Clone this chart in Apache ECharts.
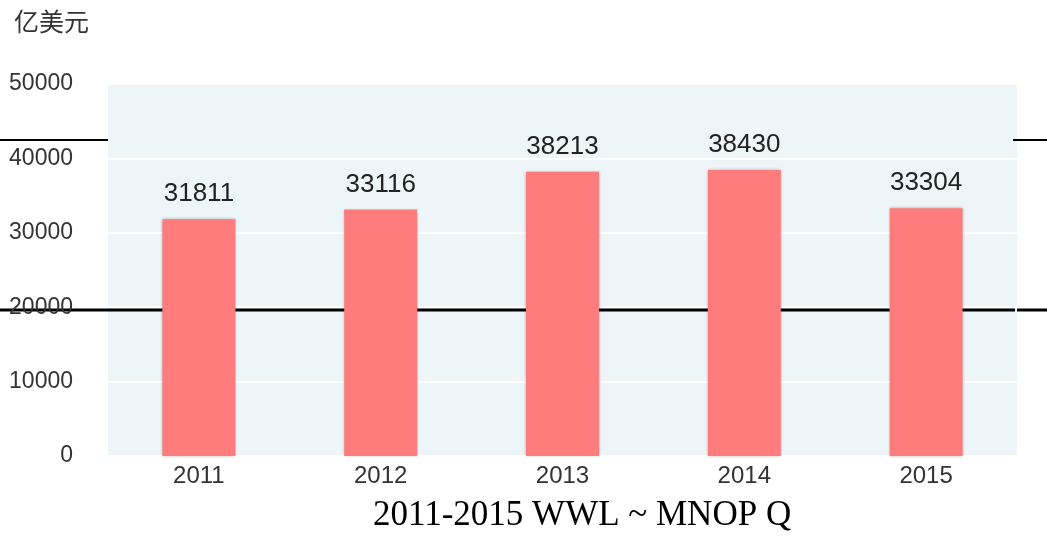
<!DOCTYPE html>
<html>
<head>
<meta charset="utf-8">
<script src="https://cdn.jsdelivr.net/npm/echarts@6/dist/echarts.min.js"></script>
<style>
  html, body { margin: 0; padding: 0; background: #fff; }
  #chart { width: 1047px; height: 540px; }
</style>
</head>
<body>
<div id="chart"></div>
<script>
// 数据
const years = ['2011', '2012', '2013', '2014', '2015']
const values = [31811, 33116, 38213, 38430, 33304]
const unitText = '亿美元'
const titleText = '2011-2015 WWL ~ MNOP Q'

let chart = echarts.init(document.getElementById('chart'))
let option = {
  animation: false,
  backgroundColor: '#fff',
  title: {
    text: titleText,
    left: 368,
    bottom: 2,
    textStyle: {
      fontFamily: 'Liberation Serif',
      fontWeight: 'normal',
      fontSize: 35,
      color: '#000'
    }
  },
  grid: {
    left: 108,
    right: 30,
    top: 84,
    bottom: 84,
    show: true,
    backgroundColor: '#edf5f8',
    borderWidth: 0
  },
  xAxis: {
    type: 'category',
    data: years,
    axisLine: { show: false },
    axisTick: { show: false },
    axisLabel: {
      color: '#333',
      fontFamily: 'Liberation Sans',
      fontSize: 24,
      margin: 8
    }
  },
  yAxis: {
    type: 'value',
    min: 0,
    max: 50000,
    interval: 10000,
    name: unitText,
    nameLocation: 'end',
    nameGap: 0,
    nameTextStyle: {
      fontFamily: 'Noto Sans CJK SC',
      fontSize: 25,
      color: '#333',
      align: 'left',
      padding: [0, 0, 50, -94]
    },
    axisLine: { show: false },
    axisTick: { show: false },
    splitLine: {
      show: true,
      lineStyle: { color: '#fff', width: 2 }
    },
    axisLabel: {
      color: '#333',
      fontFamily: 'Liberation Sans',
      fontSize: 23,
      margin: 35,
      formatter: function (v) { return String(v) }
    }
  },
  series: [
    {
      type: 'bar',
      data: values,
      barWidth: 73,
      itemStyle: {
        color: '#ff7c7c',
        shadowColor: 'rgba(0,0,0,0.3)',
        shadowBlur: 3
      },
      label: {
        show: true,
        position: 'top',
        distance: 12,
        color: '#222',
        fontFamily: 'Liberation Sans',
        fontSize: 26
      }
    }
  ],
  // 扫描件上的杂线
  graphic: [
    { type: 'line', shape: { x1: 0, y1: 140, x2: 108, y2: 140 }, style: { stroke: '#000', lineWidth: 2 } },
    { type: 'line', shape: { x1: 1013, y1: 140, x2: 1047, y2: 140 }, style: { stroke: '#000', lineWidth: 2 } },
    { type: 'line', shape: { x1: 0, y1: 310, x2: 1015, y2: 310 }, style: { stroke: '#000', lineWidth: 3 } },
    { type: 'line', shape: { x1: 1017, y1: 310, x2: 1047, y2: 310 }, style: { stroke: '#000', lineWidth: 3 } }
  ]
}
chart.setOption(option)
</script>
</body>
</html>
